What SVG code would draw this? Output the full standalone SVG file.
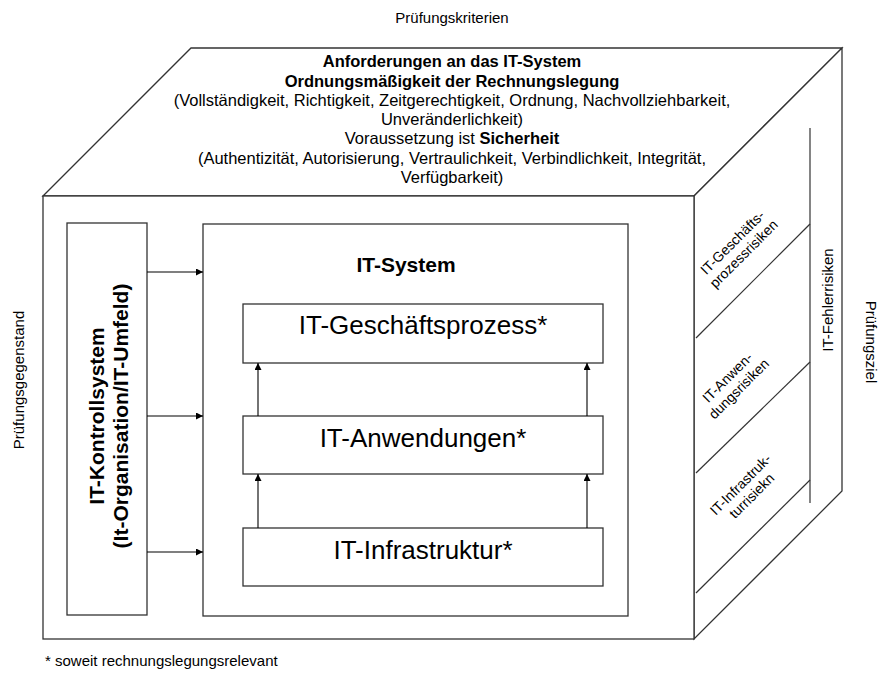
<svg xmlns="http://www.w3.org/2000/svg" width="880" height="674" viewBox="0 0 880 674">
<defs>
<style>
text{font-family:"Liberation Sans",Arial,sans-serif;fill:#000}
.face{fill:#fff;stroke:#333;stroke-width:1.3}
.box{fill:#fff;stroke:#333;stroke-width:1.3}
.ln{fill:none;stroke:#333;stroke-width:1.2}
.arr{fill:none;stroke:#000;stroke-width:1.1;marker-end:url(#ah)}
.t16{font-size:16.5px;text-anchor:middle}
.b{font-weight:bold}
.lbl{font-size:15px}
.big{font-size:26px;text-anchor:middle}
.rk{font-size:14px;text-anchor:middle}
</style>
<marker id="ah" viewBox="0 0 10 10" refX="10" refY="5" markerWidth="8" markerHeight="7" markerUnits="userSpaceOnUse" orient="auto">
<path d="M0,0 L10,5 L0,10 z" fill="#000"/>
</marker>
</defs>
<rect width="880" height="674" fill="#fff"/>

<text class="lbl" x="452" y="23" text-anchor="middle">Prüfungskriterien</text>

<g id="cube">
<polygon class="face" points="43,196 191,48 842,48 694,196"/>
<polygon class="face" points="694,196 842,48 842,491 694,639"/>
<rect class="face" x="43" y="196" width="651" height="443"/>
</g>

<g id="top-text">
<text class="t16 b" x="452" y="67">Anforderungen an das IT-System</text>
<text class="t16 b" x="452" y="87">Ordnungsmäßigkeit der Rechnungslegung</text>
<text class="t16" x="452" y="106">(Vollständigkeit, Richtigkeit, Zeitgerechtigkeit, Ordnung, Nachvollziehbarkeit,</text>
<text class="t16" x="452" y="125">Unveränderlichkeit)</text>
<text class="t16" x="452" y="144">Voraussetzung ist <tspan class="b">Sicherheit</tspan></text>
<text class="t16" x="452" y="164">(Authentizität, Autorisierung, Vertraulichkeit, Verbindlichkeit, Integrität,</text>
<text class="t16" x="452" y="183">Verfügbarkeit)</text>
</g>

<g id="risks">
<line class="ln" x1="810" y1="128" x2="810" y2="503"/>
<line class="ln" x1="696" y1="338" x2="810" y2="224"/>
<line class="ln" x1="696" y1="473" x2="810" y2="362"/>
<line class="ln" x1="696" y1="593" x2="810" y2="480"/>
<text class="lbl" transform="translate(833,300) rotate(-90)" text-anchor="middle">IT-Fehlerrisiken</text>
<g transform="translate(738,248) rotate(-45)">
<text class="rk" x="0" y="-3">IT-Geschäfts-</text>
<text class="rk" x="0" y="13">prozessrisiken</text>
</g>
<g transform="translate(733,383) rotate(-45)">
<text class="rk" x="0" y="-3">IT-Anwen-</text>
<text class="rk" x="0" y="13">dungsrisiken</text>
</g>
<g transform="translate(746,490) rotate(-45)">
<text class="rk" x="0" y="-3">IT-Infrastruk-</text>
<text class="rk" x="0" y="13">turrisiekn</text>
</g>
</g>

<text class="lbl" transform="translate(24,380) rotate(-90)" text-anchor="middle">Prüfungsgegenstand</text>
<text class="lbl" transform="translate(866,342) rotate(90)" text-anchor="middle">Prüfungsziel</text>

<g id="kontrollsystem">
<rect class="box" x="67" y="223" width="80" height="392"/>
<text class="b" font-size="21" text-anchor="middle" transform="translate(104,416) rotate(-90)">IT-Kontrollsystem</text>
<text class="b" font-size="21" text-anchor="middle" transform="translate(128,416) rotate(-90)">(It-Organisation/IT-Umfeld)</text>
</g>

<g id="it-system">
<rect class="box" x="203" y="224" width="425" height="392"/>
<text class="b" font-size="21" x="406" y="272" text-anchor="middle">IT-System</text>
</g>

<g id="geschaeftsprozess">
<rect class="box" x="243" y="304" width="360" height="59"/>
<text class="big" x="423" y="334">IT-Geschäftsprozess*</text>
</g>
<g id="anwendungen">
<rect class="box" x="243" y="416" width="360" height="58"/>
<text class="big" x="423" y="447">IT-Anwendungen*</text>
</g>
<g id="infrastruktur">
<rect class="box" x="243" y="528" width="360" height="58"/>
<text class="big" x="423" y="559">IT-Infrastruktur*</text>
</g>

<g id="connectors">
<line class="arr" x1="147" y1="272" x2="203" y2="272"/>
<line class="arr" x1="147" y1="416" x2="203" y2="416"/>
<line class="arr" x1="147" y1="552" x2="203" y2="552"/>
<line class="arr" x1="258" y1="416" x2="258" y2="363"/>
<line class="arr" x1="587" y1="416" x2="587" y2="363"/>
<line class="arr" x1="258" y1="528" x2="258" y2="474"/>
<line class="arr" x1="587" y1="528" x2="587" y2="474"/>
</g>

<text class="lbl" x="45" y="666">* soweit rechnungslegungsrelevant</text>
</svg>
